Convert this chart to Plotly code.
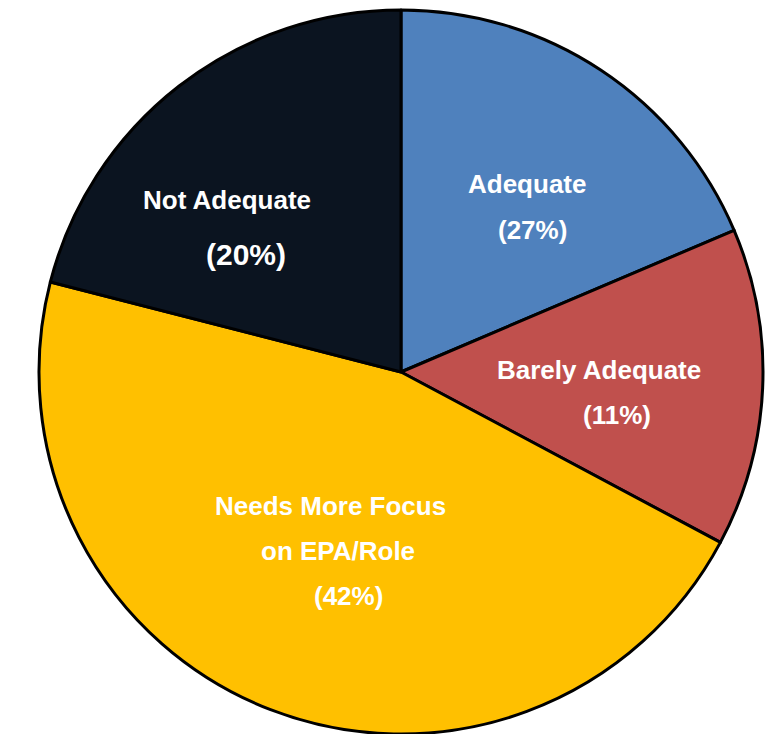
import plotly.graph_objects as go

# Data
categories = ["Adequate", "Barely Adequate", "Needs More Focus on EPA/Role", "Not Adequate"]
slice_values = [18.6, 14.2, 46.2, 21.0]          # slice sizes as drawn
label_pct = ["(27%)", "(11%)", "(42%)", "(20%)"]  # percentages as printed
colors = ["#4F81BD", "#C0504D", "#FFC000", "#0B1420"]

W, H = 774, 734
cx, cy, r = 401, 372, 362   # pixel centre (from top-left) and radius

fig = go.Figure(go.Pie(
    labels=categories,
    values=slice_values,
    sort=False,
    direction="clockwise",
    rotation=0,
    textinfo="none",
    hoverinfo="skip",
    marker=dict(colors=colors, line=dict(color="#000000", width=3)),
    domain=dict(x=[(cx - r) / W, (cx + r) / W],
                y=[(H - cy - r) / H, (H - cy + r) / H]),
    showlegend=False,
))

# label lines: (text, x_px, y_px, size)
lines = [
    ("Adequate", 527, 184, 26),
    (label_pct[0], 532, 230, 26),
    ("Barely Adequate", 599, 370, 26),
    (label_pct[1], 617, 415, 26),
    ("Needs More Focus", 330, 506, 26),
    ("on EPA/Role", 338, 551, 26),
    (label_pct[2], 348, 596, 26),
    ("Not Adequate", 227, 200, 26),
    (label_pct[3], 246, 254, 30),
]
for txt, x, y, s in lines:
    fig.add_annotation(
        text="<b>%s</b>" % txt, x=x / W, y=1 - y / H, xref="paper", yref="paper",
        showarrow=False, xanchor="center", yanchor="middle",
        font=dict(family="Liberation Sans, Arial, sans-serif", size=s, color="#FFFFFF"),
    )

fig.update_layout(
    width=W, height=H,
    margin=dict(l=0, r=0, t=0, b=0),
    paper_bgcolor="#FFFFFF", plot_bgcolor="#FFFFFF",
)

fig.write_html("out.html")
